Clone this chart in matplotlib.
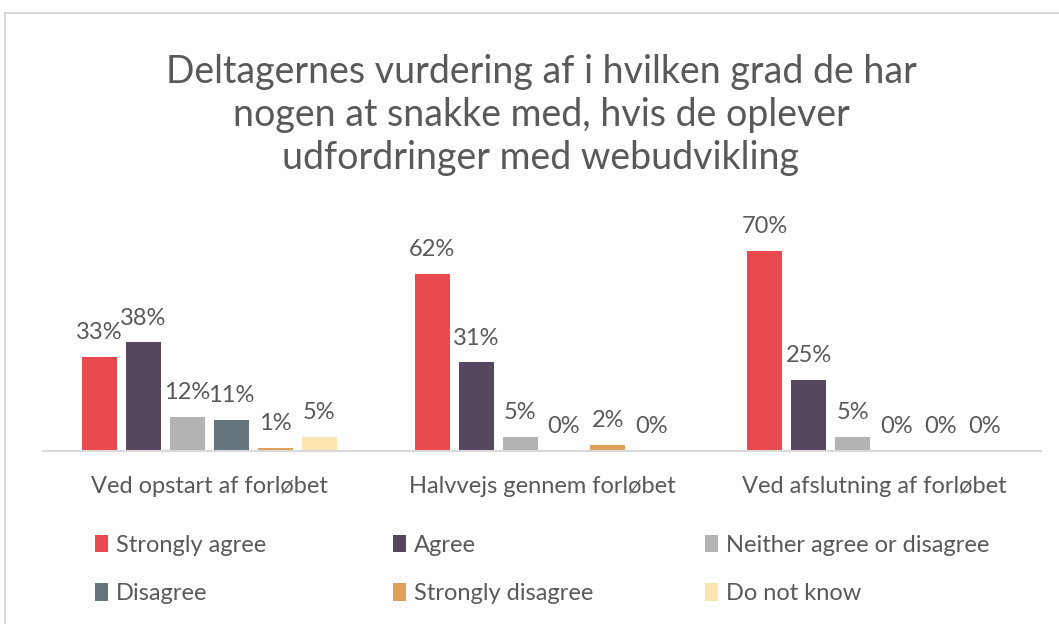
import matplotlib
matplotlib.use("Agg")
import matplotlib.pyplot as plt
from matplotlib.patches import Rectangle
import numpy as np

plt.rcParams['font.family'] = ['Lato', 'DejaVu Sans']

categories = ["Ved opstart af forløbet", "Halvvejs gennem forløbet", "Ved afslutning af forløbet"]
series = ["Strongly agree", "Agree", "Neither agree or disagree", "Disagree", "Strongly disagree", "Do not know"]
values = {
    "Strongly agree": [33, 62, 70],
    "Agree": [38, 31, 25],
    "Neither agree or disagree": [12, 5, 5],
    "Disagree": [11, 0, 0],
    "Strongly disagree": [1, 2, 0],
    "Do not know": [5, 0, 0],
}
colors = ["#E84A4F", "#54475E", "#B3B3B3", "#66757C", "#E0A05A", "#FDE5B0"]
title = "Deltagernes vurdering af i hvilken grad de har\nnogen at snakke med, hvis de oplever\nudfordringer med webudvikling"

W, H = 1059, 624
fig = plt.figure(figsize=(W / 100, H / 100), dpi=100)
fig.patch.set_facecolor("white")

# outer border
fig.patches.append(Rectangle((5 / W, -0.01), 1.1, 1 - 13 / H + 0.01, transform=fig.transFigure,
                             fill=False, edgecolor="#D9D9D9", linewidth=1.5))

ax = fig.add_axes([43 / W, 1 - 451 / H, (1041 - 43) / W, (451 - 222.4) / H])
ax.set_xlim(-0.5, 2.5)
ax.set_ylim(0, 80)

x = np.arange(len(categories))
step = 44 / 333
width = 35 / 333
text_color = "#595959"
fs = 17
handles = []
for i, (s, c) in enumerate(zip(series, colors)):
    offs = (i - 2.5) * step
    b = ax.bar(x + offs, values[s], width=width, color=c, label=s, zorder=2)
    handles.append(b)
    for xi, v in zip(x, values[s]):
        ax.annotate(f"{v}%", (xi + offs, v), xytext=(0, 10), textcoords="offset points",
                    ha="center", va="bottom", fontsize=fs, color=text_color,
                    annotation_clip=False)

for sp in ["top", "right", "left"]:
    ax.spines[sp].set_visible(False)
ax.spines["bottom"].set_color("#D9D9D9")
ax.spines["bottom"].set_linewidth(1.5)
ax.set_yticks([])
ax.set_xticks(x)
ax.set_xticklabels(categories, fontsize=fs, color=text_color)
ax.tick_params(axis="x", length=0, pad=18)
ax.set_facecolor("none")

fig.text(541 / W, 1 - 115 / H, title, ha="center", va="center", fontsize=27,
         color=text_color, linespacing=1.25)

# legend as three columns
col_x = [95, 393, 705]
for k in range(3):
    hs = [handles[k], handles[k + 3]]
    leg = fig.legend(hs, [series[k], series[k + 3]], loc="upper left",
                     bbox_to_anchor=(col_x[k] / W, 1 - 535 / H), frameon=False,
                     fontsize=fs, labelcolor=text_color, handlelength=0.55, handleheight=0.75,
                     handletextpad=0.35, labelspacing=1.15, borderaxespad=0, borderpad=0)

fig.savefig("out.png", dpi=100)
